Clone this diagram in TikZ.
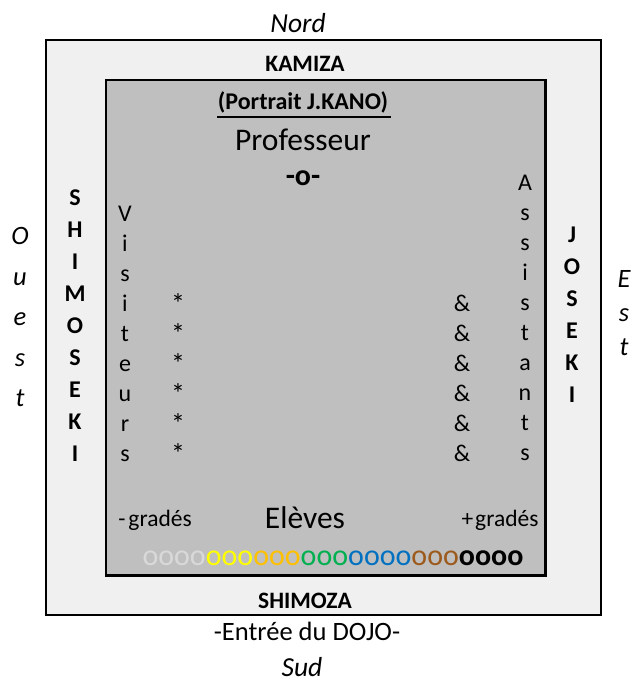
\documentclass[tikz,border=0pt]{standalone}
\usepackage{fontspec}
\setmainfont{Carlito}
\definecolor{outerfill}{HTML}{F0F0F0}
\definecolor{innerfill}{HTML}{BFBFBF}
\definecolor{cgrey}{HTML}{D9D9D9}
\definecolor{cyellow}{HTML}{FFFF00}
\definecolor{corange}{HTML}{FFC000}
\definecolor{cgreen}{HTML}{00B050}
\definecolor{cblue}{HTML}{0070C0}
\definecolor{cbrown}{HTML}{9C5A1C}
\begin{document}
\begin{tikzpicture}[x=1pt,y=-1pt,
  every node/.style={inner sep=0pt, outer sep=0pt},
  compass/.style={font=\fontsize{27.5}{30}\selectfont\itshape},
  zone/.style={font=\fontsize{23.5}{27}\selectfont\bfseries},
  big/.style={font=\fontsize{31.5}{36}\selectfont},
  plain/.style={font=\fontsize{23.5}{28}\selectfont},
  vbold/.style={align=center, font=\fontsize{24}{32}\selectfont\bfseries},
  vreg/.style={align=center, font=\fontsize{24}{30}\selectfont},
  room/.style={draw=black, line width=2.5pt, anchor=north west}
]
\useasboundingbox[fill=white] (0,0) rectangle (632,688);
\node[room, fill=outerfill, minimum width=555pt, minimum height=575pt] (outer) at (46,40) {};
\node[room, fill=innerfill, minimum width=439.5pt, minimum height=495.5pt] (inner) at (106,80) {};

\node[compass] (nord) at (298,23) {Nord};
\node[zone] (kamiza) at (305,64) {KAMIZA};
\node[zone, font=\fontsize{24}{28}\selectfont\bfseries] (portrait) at (303,102) {(Portrait J.KANO)};
\draw[line width=1.6pt] (217,117) -- (391,117);
\node[big] (prof) at (303,140) {Professeur};
\node[zone, font=\fontsize{30}{34}\selectfont\bfseries] (prof o) at (303,178) {-o-};

\node[compass, align=center, font=\fontsize{26.5}{40.5}\selectfont\itshape] (ouest) at (20,317) {O\\u\\e\\s\\t};
\node[vbold] (shimoseki) at (75,326) {S\\H\\I\\M\\O\\S\\E\\K\\I};
\node[vreg] (visit) at (125,334) {V\\i\\s\\i\\t\\e\\u\\r\\s};
\node[vreg, font=\fontsize{28}{30}\selectfont] (stars) at (178,379) {*\\*\\*\\*\\*\\*};
\node[vreg] (amps) at (462,378) {\&\\\&\\\&\\\&\\\&\\\&};
\node[vreg] (assist) at (525,318) {A\\s\\s\\i\\s\\t\\a\\n\\t\\s};
\node[vbold] (joseki) at (572,315) {J\\O\\S\\E\\K\\I};
\node[compass, align=center, font=\fontsize{26.5}{34}\selectfont\itshape] (est) at (624,313) {E\\s\\t};

\node[plain] (moins) at (155,520) {-\kern3pt gradés};
\node[big] (eleves) at (305,518) {Elèves};
\node[plain] (plus) at (500,520) {+\kern2pt gradés};
\node[font=\fontsize{30}{32}\selectfont] (ceintures) at (333,558) {{\color{cgrey}oooo}{\color{cyellow}ooo}{\color{corange}ooo}{\color{cgreen}ooo}{\color{cblue}oooo}{\color{cbrown}ooo}{\bfseries oooo}};

\node[zone] (shimoza) at (305,601) {SHIMOZA};
\node[compass, font=\fontsize{26.5}{30}\selectfont] (entree) at (307,631) {-Entrée du DOJO-};
\node[compass] (sud) at (302,667) {Sud};
\end{tikzpicture}
\end{document}
